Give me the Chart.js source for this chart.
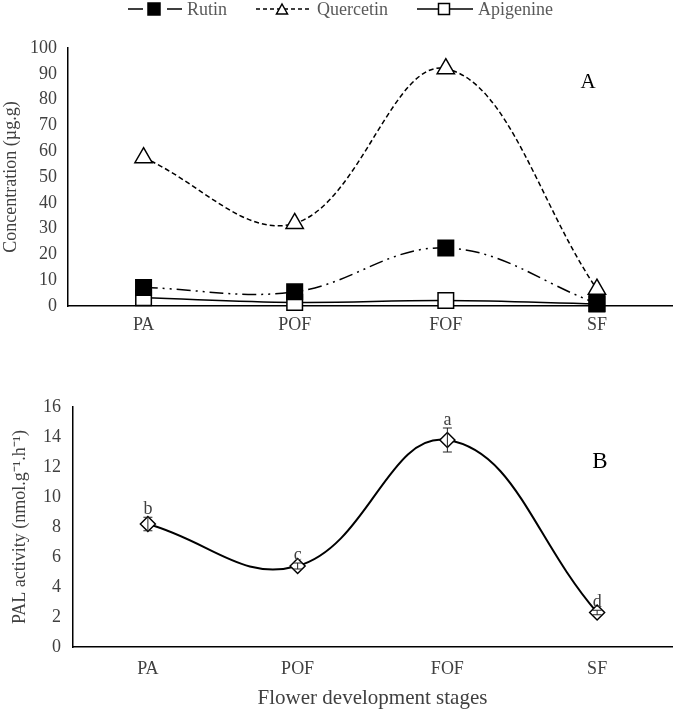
<!DOCTYPE html>
<html>
<head>
<meta charset="utf-8">
<script src="https://cdn.jsdelivr.net/npm/chart.js@4.4.1/dist/chart.umd.min.js"></script>
<style>
  body { margin: 0; background: #fff; }
  #wrap { position: relative; width: 685px; height: 711px; }
  canvas { position: absolute; left: 0; }
</style>
</head>
<body>
<div id="wrap">
  <canvas id="chartA" style="top:0;width:685px;height:340px"></canvas>
  <canvas id="chartB" style="top:340px;width:685px;height:371px"></canvas>
</div>
<script>
// flower development stages
var stages = ["PA", "POF", "FOF", "SF"];

// panel A: concentration (µg.g)
var rutin = [7.2, 5.5, 22.5, 1.0];
var quercetin = [57.5, 32, 92, 6.5];
var apigenine = [3.2, 1.4, 2.1, 0.8];
var concMax = 100, concStep = 10;

// panel B: PAL activity
var palActivity = [8.2, 5.4, 13.8, 2.3];
var palError = [0.45, 0.2, 0.8, 0.15];
var palLetters = ["b", "c", "a", "d"];
var palMax = 16, palStep = 2;

var serif = "'Liberation Serif', 'Times New Roman', serif";
Chart.defaults.font.family = serif;
Chart.defaults.color = "#404040";

function marker(ctx, style, x, y, s, fill) {
  ctx.save();
  ctx.beginPath();
  if (style === "triangle") {
    ctx.moveTo(x, y - s * 0.6);
    ctx.lineTo(x + s * 0.55, y + s * 0.4);
    ctx.lineTo(x - s * 0.55, y + s * 0.4);
    ctx.closePath();
  } else {
    ctx.rect(x - s / 2, y - s / 2, s, s);
  }
  ctx.fillStyle = fill;
  ctx.fill();
  ctx.lineWidth = 1.5;
  ctx.strokeStyle = "#000";
  ctx.stroke();
  ctx.restore();
}

var legendA = {
  id: "legendA",
  afterDraw: function (chart) {
    var ctx = chart.ctx, y = 9;
    ctx.save();
    ctx.strokeStyle = "#000";
    ctx.lineWidth = 1.5;
    // Rutin
    ctx.beginPath();
    ctx.moveTo(128, y); ctx.lineTo(143, y);
    ctx.moveTo(167, y); ctx.lineTo(182, y);
    ctx.stroke();
    marker(ctx, "rect", 154, y, 12, "#000");
    // Quercetin
    ctx.setLineDash([4, 3]);
    ctx.beginPath();
    ctx.moveTo(256, y); ctx.lineTo(310, y);
    ctx.stroke();
    ctx.setLineDash([]);
    marker(ctx, "triangle", 282, y + 1, 10, "#fff");
    // Apigenine
    ctx.beginPath();
    ctx.moveTo(417, y); ctx.lineTo(473, y);
    ctx.stroke();
    marker(ctx, "rect", 444, y, 11, "#fff");

    ctx.font = "18px " + serif;
    ctx.fillStyle = "#595959";
    ctx.textBaseline = "middle";
    ctx.textAlign = "left";
    ctx.fillText("Rutin", 187, y + 1);
    ctx.fillText("Quercetin", 317, y + 1);
    ctx.fillText("Apigenine", 478, y + 1);
    ctx.restore();
  }
};

function panelLabel(text, x, y, size) {
  return {
    id: "panel" + text,
    afterDraw: function (chart) {
      var ctx = chart.ctx;
      ctx.save();
      ctx.font = size + "px " + serif;
      ctx.fillStyle = "#000";
      ctx.textAlign = "center";
      ctx.textBaseline = "middle";
      ctx.fillText(text, x, y);
      ctx.restore();
    }
  };
}

var errorBars = {
  id: "errorBars",
  afterDatasetsDraw: function (chart) {
    var ctx = chart.ctx;
    var yScale = chart.scales.y;
    var pts = chart.getDatasetMeta(0).data;
    ctx.save();
    ctx.strokeStyle = "#222";
    ctx.lineWidth = 1;
    ctx.font = "18px " + serif;
    ctx.fillStyle = "#404040";
    ctx.textAlign = "center";
    ctx.textBaseline = "alphabetic";
    for (var i = 0; i < pts.length; i++) {
      var x = pts[i].x;
      var top = yScale.getPixelForValue(palActivity[i] + palError[i]);
      var bot = yScale.getPixelForValue(palActivity[i] - palError[i]);
      ctx.beginPath();
      ctx.moveTo(x, top); ctx.lineTo(x, bot);
      ctx.moveTo(x - 4.5, top); ctx.lineTo(x + 4.5, top);
      ctx.moveTo(x - 4.5, bot); ctx.lineTo(x + 4.5, bot);
      ctx.stroke();
      ctx.fillText(palLetters[i], x, top - 3);
    }
    ctx.restore();
  }
};

new Chart(document.getElementById("chartA"), {
  type: "line",
  data: {
    labels: stages,
    datasets: [
      {
        label: "Rutin",
        data: rutin,
        borderColor: "#000",
        borderWidth: 1.5,
        borderDash: [14, 5, 2, 5, 2, 5],
        tension: 0.38,
        pointStyle: "rect",
        pointRadius: 11,
        pointBackgroundColor: "#000",
        pointBorderColor: "#000",
        pointBorderWidth: 1.5,
        clip: false
      },
      {
        label: "Quercetin",
        data: quercetin,
        borderColor: "#000",
        borderWidth: 1.5,
        borderDash: [5, 3],
        tension: 0.38,
        pointStyle: "triangle",
        pointRadius: 10,
        pointBackgroundColor: "#fff",
        pointBorderColor: "#000",
        pointBorderWidth: 1.5,
        clip: false
      },
      {
        label: "Apigenine",
        data: apigenine,
        borderColor: "#000",
        borderWidth: 1.5,
        tension: 0.38,
        pointStyle: "rect",
        pointRadius: 11,
        pointBackgroundColor: "#fff",
        pointBorderColor: "#000",
        pointBorderWidth: 1.5,
        clip: false
      }
    ]
  },
  options: {
    responsive: false,
    animation: false,
    layout: { padding: { top: 48, right: 1, left: 0, bottom: 0 } },
    plugins: { legend: { display: false }, tooltip: { enabled: false } },
    scales: {
      x: {
        offset: true,
        grid: { display: false, drawTicks: false },
        border: { color: "#000", width: 1.5 },
        ticks: { font: { size: 18 }, padding: 8 },
        afterFit: function (s) { s.height = 34; }
      },
      y: {
        min: 0,
        max: concMax,
        grid: { display: false, drawTicks: false },
        border: { color: "#000", width: 1.5 },
        ticks: { stepSize: concStep, font: { size: 18 }, padding: 11 },
        title: {
          display: true,
          text: "Concentration (µg.g)",
          font: { size: 18 },
          padding: { top: 0, bottom: 0 }
        },
        afterFit: function (s) { s.width = 68; }
      }
    }
  },
  plugins: [legendA, panelLabel("A", 588, 82, 21)]
});

new Chart(document.getElementById("chartB"), {
  type: "line",
  data: {
    labels: stages,
    datasets: [
      {
        label: "PAL activity",
        data: palActivity,
        borderColor: "#000",
        borderWidth: 2,
        tension: 0.42,
        pointStyle: "rectRot",
        pointRadius: 7.5,
        pointBackgroundColor: "#fff",
        pointBorderColor: "#000",
        pointBorderWidth: 1.5,
        clip: false
      }
    ]
  },
  options: {
    responsive: false,
    animation: false,
    layout: { padding: { top: 67, right: 13, left: 0, bottom: 0 } },
    plugins: { legend: { display: false }, tooltip: { enabled: false } },
    scales: {
      x: {
        offset: true,
        grid: { display: false, drawTicks: false },
        border: { color: "#000", width: 1.5 },
        ticks: { font: { size: 18 }, padding: 11 },
        title: {
          display: true,
          text: "Flower development stages",
          font: { size: 21 },
          padding: { top: 0, bottom: 0 }
        },
        afterFit: function (s) { s.height = 64; }
      },
      y: {
        min: 0,
        max: palMax,
        grid: { display: false, drawTicks: false },
        border: { color: "#000", width: 1.5 },
        ticks: { stepSize: palStep, font: { size: 18 }, padding: 12 },
        title: {
          display: true,
          text: "PAL activity (nmol.g⁻¹.h⁻¹)",
          font: { size: 18 },
          padding: { top: 9, bottom: 0 }
        },
        afterFit: function (s) { s.width = 73; }
      }
    }
  },
  plugins: [errorBars, panelLabel("B", 600, 122, 23)]
});
</script>
</body>
</html>
